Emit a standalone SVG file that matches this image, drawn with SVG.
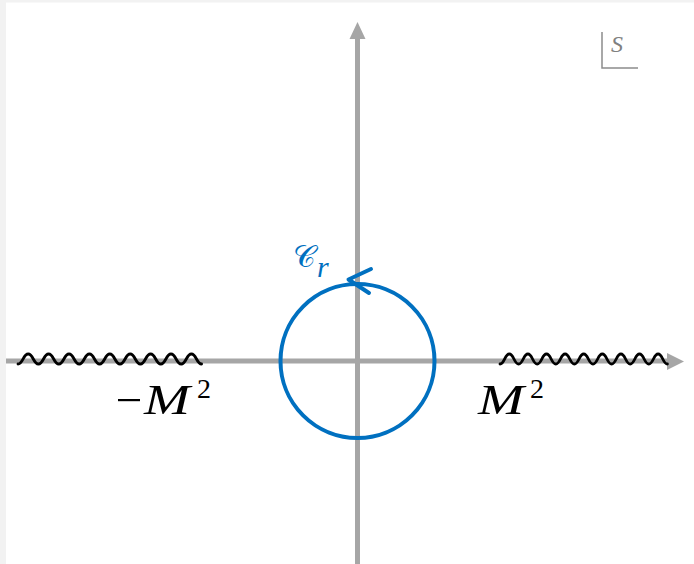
<svg xmlns="http://www.w3.org/2000/svg" width="694" height="564" viewBox="0 0 694 564">
<defs>
<style>
.axis{stroke:#a6a6a6;stroke-width:5;fill:none}
.axhead{fill:#a6a6a6}
.wave{stroke:#000;stroke-width:2.8;fill:none;stroke-linecap:round}
.contour{stroke:#0070c0;stroke-width:4;fill:none}
.m{font-family:"Liberation Serif","DejaVu Serif",serif;font-style:italic;font-size:42px;fill:#000}
.sup{font-family:"Liberation Serif","DejaVu Serif",serif;font-size:28px;fill:#000}
</style>
</defs>
<rect x="0" y="0" width="694" height="564" fill="#ffffff"/>
<rect x="0" y="0" width="6" height="564" fill="#f2f2f2"/>
<rect x="0" y="0" width="694" height="2.5" fill="#f2f2f2"/>
<g id="axes">
<line class="axis" x1="6" y1="361" x2="670" y2="361"/>
<polygon class="axhead" points="667,353 684,361.5 667,370"/>
<line class="axis" x1="357.5" y1="564" x2="357.5" y2="36"/>
<polygon class="axhead" points="349.5,39 357.5,22 365.5,39"/>
</g>
<g id="cuts">
<path class="wave" d="M18,364 c5,0 5,-10 10.2,-10 s5,10 10.2,10 s5,-10 10.2,-10 s5,10 10.2,10 s5,-10 10.2,-10 s5,10 10.2,10 s5,-10 10.2,-10 s5,10 10.2,10 s5,-10 10.2,-10 s5,10 10.2,10 s5,-10 10.2,-10 s5,10 10.2,10 s5,-10 10.2,-10 s5,10 10.2,10 s5,-10 10.2,-10 s5,10 10.2,10 s5,-10 10.2,-10 s5,10 10.2,10"/>
<path class="wave" d="M500,364 c4.7,0 4.7,-10 9.3,-10 s4.7,10 9.3,10 s4.7,-10 9.3,-10 s4.7,10 9.3,10 s4.7,-10 9.3,-10 s4.7,10 9.3,10 s4.7,-10 9.3,-10 s4.7,10 9.3,10 s4.7,-10 9.3,-10 s4.7,10 9.3,10 s4.7,-10 9.3,-10 s4.7,10 9.3,10 s4.7,-10 9.3,-10 s4.7,10 9.3,10 s4.7,-10 9.3,-10 s4.7,10 9.3,10 s4.7,-10 9.3,-10 s4.7,10 9.3,10"/>
</g>
<g id="contour">
<circle class="contour" cx="357.5" cy="361" r="77"/>
<polyline class="contour" points="371,269 348.5,279.5 369,293" stroke-linecap="round" stroke-linejoin="round"/>
<text x="293" y="267" font-family="'DejaVu Sans','Noto Sans',sans-serif" font-size="31" fill="#0070c0">𝒞</text>
<text x="317" y="277" font-family="'Liberation Serif',serif" font-style="italic" font-size="30" fill="#0070c0">r</text>
</g>
<g id="label-neg">
<rect x="118" y="399" width="22" height="2.2" fill="#000"/>
<text class="m" x="144" y="414" textLength="46" lengthAdjust="spacingAndGlyphs">M</text>
<text class="sup" x="197" y="398">2</text>
</g>
<g id="label-pos">
<text class="m" x="478" y="414" textLength="46" lengthAdjust="spacingAndGlyphs">M</text>
<text class="sup" x="530" y="398">2</text>
</g>
<g id="plane-label">
<polyline points="602,32 602,68 638,68" fill="none" stroke="#8c8c8c" stroke-width="1.5"/>
<text x="611" y="52" font-family="'Liberation Serif',serif" font-style="italic" font-size="24" fill="#808080">S</text>
</g>
</svg>
